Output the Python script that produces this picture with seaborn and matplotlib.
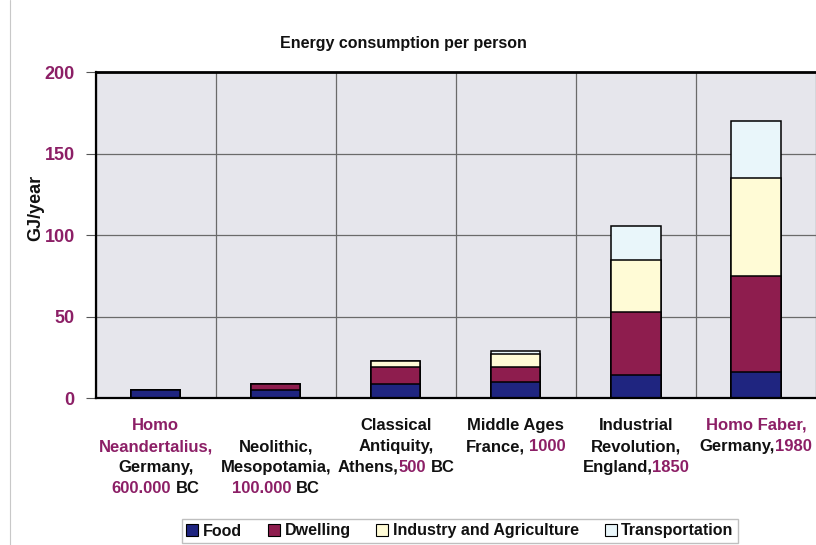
import matplotlib
matplotlib.use("Agg")
import matplotlib.pyplot as plt
import seaborn as sns
import numpy as np
import pandas as pd
from matplotlib.patches import Patch
from matplotlib.lines import Line2D

# ---------------- data ----------------
categories = ["Homo Neandertalius", "Neolithic", "Classical Antiquity",
              "Middle Ages", "Industrial Revolution", "Homo Faber"]
food = [5, 5, 9, 10, 14, 16]
dwelling = [0, 4, 10, 9, 39, 59]
industry = [0, 0, 4, 8, 32, 60]
transport = [0, 0, 0, 2, 21, 35]
series_names = ["Food", "Dwelling", "Industry and Agriculture", "Transportation"]
yticks = [0, 50, 100, 150, 200]

PURPLE = "#8c1f66"
BLACK = "#111111"
# tick-label lines: list of lines, each a list of (text, colour)
label_lines = [
    [[("Homo", PURPLE)], [("Neandertalius,", PURPLE)], [("Germany,", BLACK)],
     [("600.000", PURPLE), (" BC", BLACK)]],
    [[], [("Neolithic,", BLACK)], [("Mesopotamia,", BLACK)],
     [("100.000", PURPLE), (" BC", BLACK)]],
    [[("Classical", BLACK)], [("Antiquity,", BLACK)],
     [("Athens,", BLACK), ("500", PURPLE), (" BC", BLACK)]],
    [[("Middle Ages", BLACK)], [("France,", BLACK), (" 1000", PURPLE)]],
    [[("Industrial", BLACK)], [("Revolution,", BLACK)],
     [("England,", BLACK), ("1850", PURPLE)]],
    [[("Homo Faber,", PURPLE)], [("Germany,", BLACK), ("1980", PURPLE)]],
]

colors = ["#1f2580", "#8e1d4e", "#fffbd6", "#e9f6fa"]

# ---------------- figure ----------------
sns.set_theme(style="white")
plt.rcParams["font.family"] = ["Liberation Sans", "DejaVu Sans"]

W, H = 816, 545
fig = plt.figure(figsize=(W / 100, H / 100), dpi=100)
ax = fig.add_axes([95.7 / W, 146.7 / H, 720.3 / W, 326.0 / H])
ax.set_facecolor("#e6e6ec")

df = pd.DataFrame({"cat": categories, "Food": food, "Dwelling": dwelling,
                   "Industry and Agriculture": industry,
                   "Transportation": transport})
cum = df[series_names].cumsum(axis=1)

for name, col in reversed(list(zip(series_names, colors))):
    sns.barplot(x=df["cat"], y=cum[name], color=col, width=0.41,
                edgecolor="black", linewidth=1.1, saturation=1, ax=ax,
                order=categories)

ax.set_xlim(-0.5, 5.5)
ax.set_ylim(0, 200)
ax.set_yticks(yticks)
ax.set_yticklabels([str(v) for v in yticks])
ax.set_xticks(np.arange(-0.5, 6.0, 1.0), minor=True)
ax.set_xticks([])
ax.set_xlabel("")
ax.set_ylabel("GJ/year", fontsize=13, fontweight="bold", color=BLACK)
ax.yaxis.set_label_coords(-0.072, 0.585)

ax.grid(False)
for v in [50, 100, 150]:
    ax.axhline(v, color="#6a6a6a", lw=0.9, zorder=0.5)
ax.grid(which="minor", axis="x", color="#6a6a6a", lw=0.9)
ax.set_axisbelow(True)

ax.tick_params(axis="y", length=7, width=0.8, color="#555555", pad=8,
               labelcolor=PURPLE, labelsize=13, left=True)
ax.tick_params(axis="x", which="both", length=0)
for lab in ax.get_yticklabels():
    lab.set_fontweight("bold")

for side in ["left", "bottom"]:
    ax.spines[side].set_color("black")
    ax.spines[side].set_linewidth(1.6)
ax.spines["top"].set_color("black")
ax.spines["top"].set_linewidth(2.0)
ax.spines["right"].set_visible(False)

# title
fig.text(403 / W, 1 - 43 / H, "Energy consumption per person",
         ha="center", va="center", fontsize=11.5, fontweight="bold",
         color=BLACK)

# slide border line on the left
fig.add_artist(Line2D([10 / W, 10 / W], [0, 1], color="#c8c8c8", lw=0.8))

# ---------------- multi-coloured category labels ----------------
fig.canvas.draw()
renderer = fig.canvas.get_renderer()
LFS = 12
LW = "bold"


def text_width(s):
    if not s:
        return 0.0
    t = fig.text(0, 0, s, fontsize=LFS, fontweight=LW)
    w = t.get_window_extent(renderer).width
    t.remove()
    return w


space_w = text_width("a a") - text_width("aa")
line_y0 = 430  # pixel from top: baseline of first line
line_step = 21
for i, lines in enumerate(label_lines):
    xc = ax.transData.transform((i, 0))[0]
    for j, pieces in enumerate(lines):
        if not pieces:
            continue
        parts = []
        total = 0.0
        for txt, col in pieces:
            lead = len(txt) - len(txt.lstrip(" "))
            core = txt.strip(" ")
            w = text_width(core)
            parts.append((total + lead * space_w, core, col))
            total += lead * space_w + w
        x0 = xc - total / 2
        ypix = H - (line_y0 + j * line_step)
        for off, core, col in parts:
            fig.text((x0 + off) / W, ypix / H, core, fontsize=LFS,
                     fontweight=LW, color=col, ha="left", va="baseline")

# ---------------- legend ----------------
handles = [Patch(facecolor=c, edgecolor="black", linewidth=0.8)
           for c in colors]
leg = fig.legend(handles, series_names, loc="center",
                 bbox_to_anchor=(460 / W, 14 / H), ncol=4, frameon=True,
                 fontsize=11.5, handlelength=0.75, handleheight=0.75,
                 handletextpad=0.3, columnspacing=1.6, borderpad=0.3,
                 fancybox=False, edgecolor="#b0b0b0")
for t in leg.get_texts():
    t.set_fontweight("bold")
    t.set_color(BLACK)
leg.get_frame().set_linewidth(1.0)

fig.savefig("out.png", dpi=100)
